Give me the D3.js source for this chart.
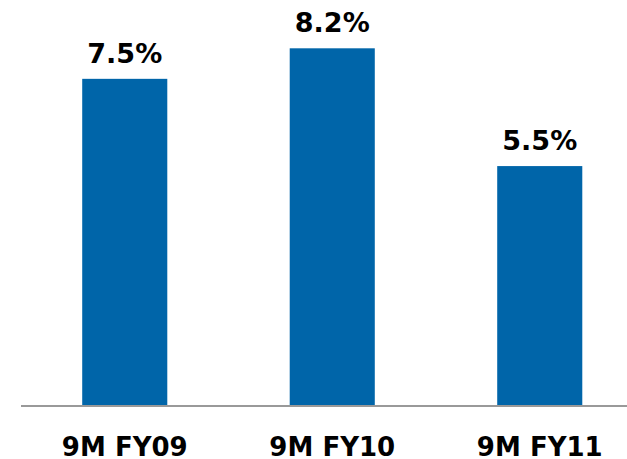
<!DOCTYPE html>
<html>
<head>
<meta charset="utf-8">
<script src="https://cdn.jsdelivr.net/npm/d3@7"></script>
<style>
  html, body { margin: 0; padding: 0; background: #fff; }
  svg { display: block; }
</style>
</head>
<body>
<svg id="chart" width="627" height="459"></svg>
<script>
// Nine-month margin by fiscal year
const categories = ["9M FY09", "9M FY10", "9M FY11"];
const values = [7.5, 8.2, 5.5];
const valueLabels = ["7.5%", "8.2%", "5.5%"];

const W = 627, H = 459;
const baseY = 406;
const svg = d3.select("#chart");

const x = d3.scaleBand()
  .domain(categories)
  .range([21, 643.5])
  .paddingInner(0.59)
  .paddingOuter(0.295);

const y = d3.scaleLinear()
  .domain([0, 8.2])
  .range([baseY, 48.3]);

const font = "'DejaVu Sans', Verdana, sans-serif";

// bars
svg.append("g").selectAll("rect")
  .data(values)
  .join("rect")
  .attr("x", (d, i) => x(categories[i]))
  .attr("width", x.bandwidth())
  .attr("y", d => y(d))
  .attr("height", d => baseY - y(d))
  .attr("fill", "#0065A9");

// value labels above bars
svg.append("g").selectAll("text")
  .data(values)
  .join("text")
  .attr("x", (d, i) => x(categories[i]) + x.bandwidth() / 2)
  .attr("y", d => y(d) - 16)
  .attr("text-anchor", "middle")
  .attr("font-family", font)
  .attr("font-weight", "bold")
  .attr("font-size", 27)
  .attr("fill", "#000")
  .text((d, i) => valueLabels[i]);

// category axis
const axis = svg.append("g")
  .attr("transform", `translate(0,${baseY})`)
  .call(d3.axisBottom(x).tickSize(0));
axis.select(".domain")
  .attr("d", `M21,0H${W}`)
  .attr("stroke", "#999")
  .attr("stroke-width", 2);
axis.selectAll(".tick text")
  .attr("font-family", font)
  .attr("font-weight", "bold")
  .attr("font-size", 26)
  .attr("fill", "#000")
  .attr("y", 50)
  .attr("dy", null);
</script>
</body>
</html>
